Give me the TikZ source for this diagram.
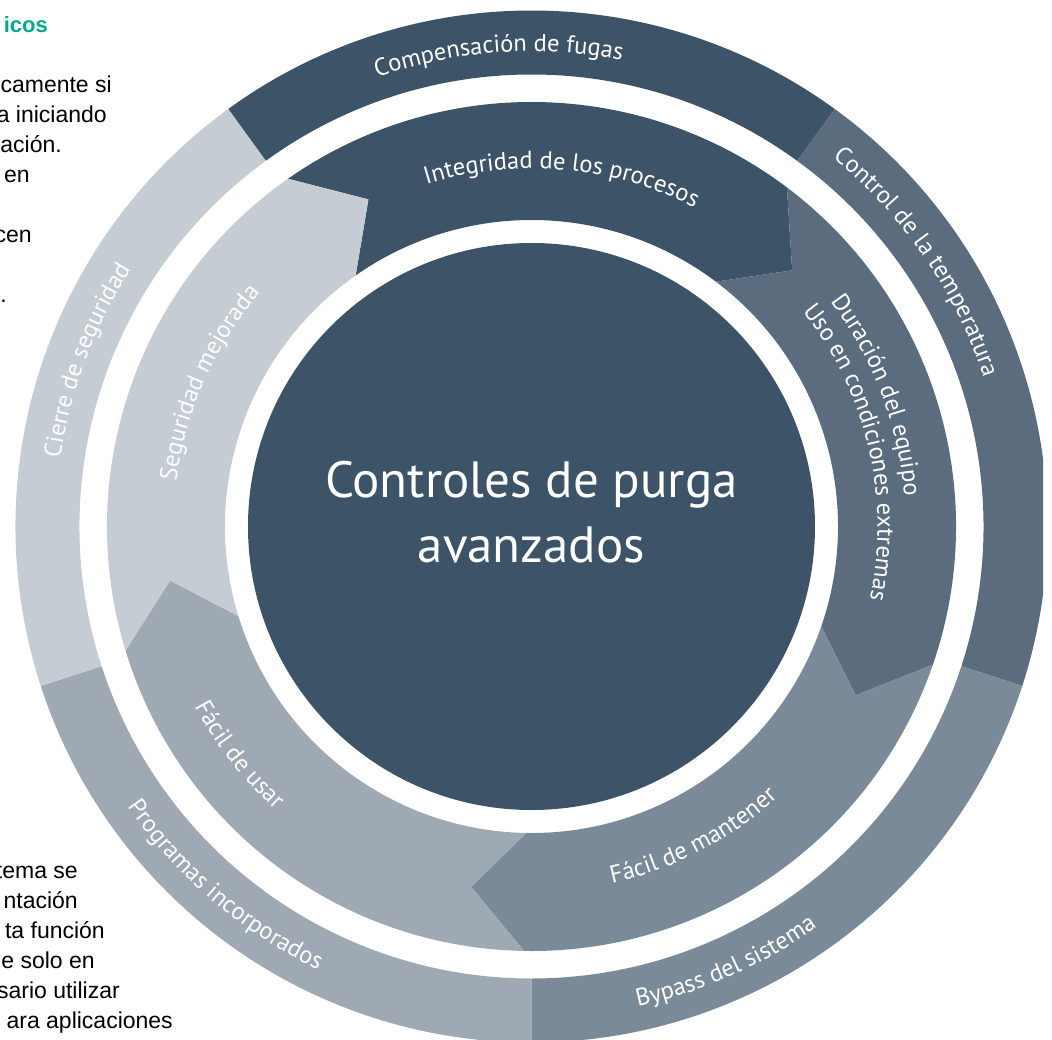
\documentclass[tikz,border=0pt]{standalone}
\usepackage{fontspec}
\setmainfont{Liberation Sans}
\newfontfamily\labfam{PT Sans}
\usetikzlibrary{decorations.text}
\definecolor{cA}{RGB}{61,84,104}
\definecolor{cB}{RGB}{90,108,126}
\definecolor{cC}{RGB}{123,138,153}
\definecolor{cD}{RGB}{159,169,180}
\definecolor{cE}{RGB}{197,204,212}
\definecolor{teal}{RGB}{0,168,143}
\newcommand\labfont{\labfam\fontsize{24.5}{28}\selectfont\color{white}}
\newcommand\ringseg[3]{\fill[#1] (#2:452) arc[start angle=#2,end angle=#3,radius=452] -- (#3:516) arc[start angle=#3,end angle=#2,radius=516] -- cycle;}
\newcommand\midseg[3]{\fill[#1] (#2:306.5) -- ({#2-8.5}:365.5) -- (#2:424.5) arc[start angle=#2,end angle=#3,radius=424.5] -- ({#3-8.5}:365.5) -- (#3:306.5) arc[start angle=#3,end angle=#2,radius=306.5] -- cycle;}
\newcommand\cwlabel[4]{\path[decorate,decoration={text along path,text align=center,text={|\labfont|#4}}] ({#2+#3}:#1) arc[start angle={#2+#3},end angle={#2-#3},radius=#1];}
\newcommand\ccwlabel[4]{\path[decorate,decoration={text along path,text align=center,text={|\labfont|#4}}] ({#2-#3}:#1) arc[start angle={#2-#3},end angle={#2+#3},radius=#1];}
\begin{document}
\begin{tikzpicture}[x=1pt,y=1pt,
  body/.style={anchor=base east,inner sep=0pt,font=\fontsize{23}{28}\selectfont,text=black}]
\useasboundingbox (-531.5,-512.5) rectangle (520.5,526.5);
\clip (-531.5,-512.5) rectangle (520.5,526.5);
% left column text fragments
\node[body,font=\bfseries\fontsize{22}{26}\selectfont,text=teal] (t0) at (-483.5,493.5) {icos};
\node[body] (t1) at (-419.5,433.5) {camente si};
\node[body] (t2) at (-424.5,403.5) {a iniciando};
\node[body] (t3) at (-469.5,373.5) {ación.};
\node[body] (t4) at (-501.5,343.5) {en};
\node[body] (t5) at (-499.5,283.5) {cen};
\node[body] (t6) at (-524.5,223.5) {.};
\node[body] (b1) at (-453.5,-351.5) {tema se};
\node[body] (b2) at (-453.5,-381.5) {ntación};
\node[body] (b3) at (-426.5,-411.5) {ta función};
\node[body] (b4) at (-436.5,-441.5) {e solo en};
\node[body] (b5) at (-411.5,-471.5) {esario utilizar};
\node[body] (b6) at (-358.5,-501.5) {ara aplicaciones};
% outer ring
\begin{scope}
\clip (-600,-600) rectangle (511.5,600);
\ringseg{cA}{54}{126}
\ringseg{cB}{-18}{54}
\ringseg{cC}{-90}{-18}
\ringseg{cD}{198}{270}
\ringseg{cE}{126}{198}
\end{scope}
% middle ring (arrows)
\midseg{cA}{53}{125}
\midseg{cB}{-19}{53}
\midseg{cC}{-91}{-19}
\midseg{cD}{197}{269}
\midseg{cE}{125}{197}
% centre
\node[circle,fill=cA,minimum size=567pt,inner sep=0pt] (core) at (0,0) {};
\node[anchor=base,text=white,font=\labfam\fontsize{51}{56}\selectfont] (title1) at (0,29.5) {Controles de purga};
\node[anchor=base,text=white,font=\labfam\fontsize{51}{56}\selectfont] (title2) at (0,-35.5) {avanzados};
% labels
\cwlabel{475}{94}{45}{Compensación de fugas}
\cwlabel{358}{85}{45}{Integridad de los procesos}
\cwlabel{476}{34.5}{40}{Control de la temperatura}
\path[decorate,decoration={text along path,text={|\labfont|Duración del equipo}}] (37:374) arc[start angle=37,end angle=-40,radius=374];
\path[decorate,decoration={text along path,text={|\labfont|Uso en condiciones extremas}}] (38.5:346) arc[start angle=38.5,end angle=-40,radius=346];
\ccwlabel{366}{-62.5}{40}{Fácil de mantener}
\ccwlabel{492}{-66}{40}{Bypass del sistema}
\ccwlabel{492}{229.5}{40}{Programas incorporados}
\ccwlabel{382}{218}{40}{Fácil de usar}
\cwlabel{476}{159.5}{40}{Cierre de seguridad}
\cwlabel{358}{156}{40}{Seguridad mejorada}
\end{tikzpicture}
\end{document}
